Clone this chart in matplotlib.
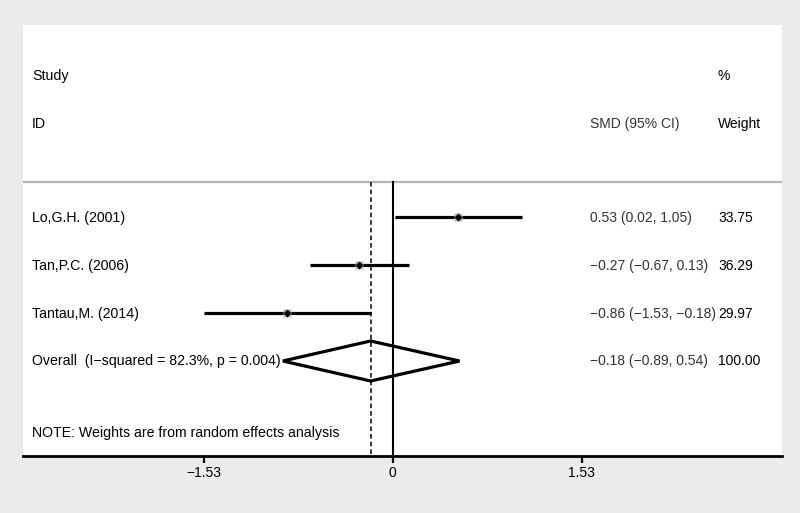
import numpy as np
import matplotlib
matplotlib.use('Agg')
import matplotlib.pyplot as plt
from matplotlib.patches import Polygon

plt.rcParams['font.family'] = ['Liberation Sans', 'DejaVu Sans']

# data
studies = ['Lo,G.H. (2001)', 'Tan,P.C. (2006)', 'Tantau,M. (2014)']
smd = [0.53, -0.27, -0.86]
ci_low = [0.02, -0.67, -1.53]
ci_high = [1.05, 0.13, -0.18]
weights = ['33.75', '36.29', '29.97']
ci_text = ['0.53 (0.02, 1.05)', '\u22120.27 (\u22120.67, 0.13)', '\u22120.86 (\u22121.53, \u22120.18)']

overall_label = 'Overall  (I\u2212squared = 82.3%, p = 0.004)'
overall_smd = -0.18
overall_low = -0.89
overall_high = 0.54
overall_text = '\u22120.18 (\u22120.89, 0.54)'
overall_weight = '100.00'

xticks = [-1.53, 0, 1.53]
xtick_labels = ['\u22121.53', '0', '1.53']

W, H = 800, 513
fig = plt.figure(figsize=(W / 100, H / 100), dpi=100)
fig.patch.set_facecolor('#ebebeb')

L, R, T, B = 23, 782, 25, 456
ax = fig.add_axes([L / W, 1 - B / H, (R - L) / W, (B - T) / H])
ax.set_facecolor('white')

# x: pixel 392.8 is zero, 123.5 px per unit
x0, sc = 392.8, 123.5
ax.set_xlim((L - x0) / sc, (R - x0) / sc)
# y: rows 48 px apart, row 0 at pixel 217
ax.set_ylim((B - 217) / 48, (T - 217) / 48)

def fx(p):
    return (p - L) / (R - L)

tf = ax.get_yaxis_transform()  # x axes fraction, y data
fs = 10
fs_left = 10.2

# headers
ax.text(fx(32), -2.94, 'Study', transform=tf, fontsize=fs_left, va='center')
ax.text(fx(32), -1.94, 'ID', transform=tf, fontsize=fs_left, va='center')
ax.text(fx(590), -1.94, 'SMD (95% CI)', transform=tf, fontsize=fs, va='center', color='#333333')
ax.text(fx(718), -2.94, '%', transform=tf, fontsize=fs, va='center')
ax.text(fx(718), -1.94, 'Weight', transform=tf, fontsize=fs, va='center')

sep_y = (182 - 217) / 48
ax.axhline(sep_y, color='#b4b4b4', lw=1.6, zorder=1)

# reference lines
ax.plot([0, 0], [sep_y, 5], color='black', lw=1.5, zorder=2)
ax.plot([overall_smd, overall_smd], [sep_y, 5], color='black', lw=1.1, ls=(0, (3, 2)), zorder=2)

rows = np.arange(len(studies))
for i in rows:
    ax.plot([ci_low[i], ci_high[i]], [i, i], color='black', lw=2.3, solid_capstyle='butt', zorder=3)
    ax.plot(smd[i], i, marker='s', ms=6, color='#bbbbbb', mec='none', zorder=4)
    ax.plot(smd[i], i, marker='D', ms=4.5, color='black', mec='none', zorder=5)
    ax.text(fx(32), i + 0.03, studies[i], transform=tf, fontsize=fs_left, va='center')
    ax.text(fx(590), i + 0.03, ci_text[i], transform=tf, fontsize=fs, va='center', color='#333333')
    ax.text(fx(718), i + 0.03, weights[i], transform=tf, fontsize=fs, va='center')

yo = len(studies)
dh = 20 / 48
diamond = Polygon([[overall_low, yo], [overall_smd, yo - dh], [overall_high, yo], [overall_smd, yo + dh]],
                  closed=True, fill=False, ec='black', lw=2.3, joinstyle='miter', zorder=4)
ax.add_patch(diamond)
ax.text(fx(32), yo, overall_label, transform=tf, fontsize=fs_left, va='center')
ax.text(fx(590), yo, overall_text, transform=tf, fontsize=fs, va='center', color='#333333')
ax.text(fx(718), yo, overall_weight, transform=tf, fontsize=fs, va='center')

ax.text(fx(32), (433 - 217) / 48, 'NOTE: Weights are from random effects analysis',
        transform=tf, fontsize=fs_left, va='center')

for s in ['top', 'left', 'right']:
    ax.spines[s].set_visible(False)
ax.spines['bottom'].set_linewidth(2)
ax.set_yticks([])
ax.set_xticks(xticks)
ax.set_xticklabels(xtick_labels, fontsize=fs)
ax.tick_params(axis='x', length=5, width=1.6, pad=2.5)

fig.savefig('out.png', dpi=100, facecolor=fig.get_facecolor())
